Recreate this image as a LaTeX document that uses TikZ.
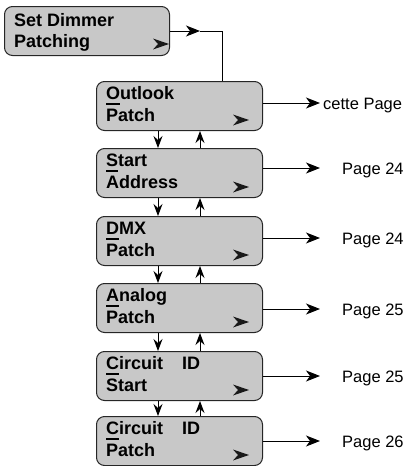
\documentclass[tikz,border=0pt]{standalone}
\usepackage{fontspec}
\setmainfont{Liberation Sans}
\usetikzlibrary{arrows.meta,calc}
\definecolor{boxgray}{RGB}{200,200,200}
\newcommand\ulfirst[1]{\setbox0\hbox{#1}\rlap{\rule[-5.5pt]{\wd0}{1.6pt}}#1}
\begin{document}
\begin{tikzpicture}[x=1pt,y=-1pt,
  box/.style={draw=black!85, fill=boxgray, line width=1pt, rounded corners=8pt,
    minimum width=166pt, minimum height=49pt, inner sep=0pt},
  lbl/.style={font=\fontsize{18}{22}\selectfont\bfseries, inner sep=0pt, anchor=base west},
  pg/.style={font=\fontsize{16.5}{20}\selectfont, inner sep=0pt, anchor=base west},
  conn/.style={draw=black, line width=1pt},
  arr/.style={-{Stealth[length=14pt,width=11pt,inset=4pt]}},
  varr/.style={-{Stealth[length=12pt,width=9pt,inset=4pt]}},
  tipglyph/.style={fill=black!90}]
\useasboundingbox (0,0) rectangle (413,466);
% top box
\node[box, minimum width=165pt, anchor=north west] (sdp) at (4,6) {};
\node[lbl] (sdp1) at ($(sdp.north west)+(10,20)$) {Set Dimmer};
\node[lbl] (sdp2) at ($(sdp.north west)+(10,41)$) {Patching};
\fill[tipglyph] ($(sdp.south east)+(-1,-12)$) -- ++(-16,-5.5) -- ++(5,5.5) -- ++(-5,5.5) -- cycle;
% menu boxes
\node[box, anchor=north west] (outlook) at (96,81) {};
\node[lbl] (outlooka) at ($(outlook.north west)+(10,18)$) {\ulfirst{O}utlook};
\node[lbl] (outlookb) at ($(outlook.north west)+(10,40.5)$) {Patch};
\fill[tipglyph] ($(outlook.south east)+(-14,-11)$) -- ++(-16,-5.5) -- ++(5,5.5) -- ++(-5,5.5) -- cycle;
\coordinate (outlooke) at (320,103);
\draw[conn,arr] (outlook.east |- outlooke) -- (outlooke);
\node[pg] (outlookp) at (323,109) {cette Page};

\node[box, anchor=north west] (start) at (96,148) {};
\node[lbl] (starta) at ($(start.north west)+(10,18)$) {\ulfirst{S}tart};
\node[lbl] (startb) at ($(start.north west)+(10,40.5)$) {Address};
\fill[tipglyph] ($(start.south east)+(-14,-11)$) -- ++(-16,-5.5) -- ++(5,5.5) -- ++(-5,5.5) -- cycle;
\coordinate (starte) at (320,168);
\draw[conn,arr] (start.east |- starte) -- (starte);
\node[pg] (startp) at (342,174) {Page 24};

\node[box, anchor=north west] (dmx) at (96,216) {};
\node[lbl] (dmxa) at ($(dmx.north west)+(10,18)$) {\ulfirst{D}MX};
\node[lbl] (dmxb) at ($(dmx.north west)+(10,40.5)$) {Patch};
\fill[tipglyph] ($(dmx.south east)+(-14,-11)$) -- ++(-16,-5.5) -- ++(5,5.5) -- ++(-5,5.5) -- cycle;
\coordinate (dmxe) at (320,238);
\draw[conn,arr] (dmx.east |- dmxe) -- (dmxe);
\node[pg] (dmxp) at (342,244) {Page 24};

\node[box, anchor=north west] (analog) at (96,283) {};
\node[lbl] (analoga) at ($(analog.north west)+(10,18)$) {\ulfirst{A}nalog};
\node[lbl] (analogb) at ($(analog.north west)+(10,40.5)$) {Patch};
\fill[tipglyph] ($(analog.south east)+(-14,-11)$) -- ++(-16,-5.5) -- ++(5,5.5) -- ++(-5,5.5) -- cycle;
\coordinate (analoge) at (320,309);
\draw[conn,arr] (analog.east |- analoge) -- (analoge);
\node[pg] (analogp) at (342,315) {Page 25};

\node[box, anchor=north west] (cstart) at (96,351) {};
\node[lbl] (cstarta) at ($(cstart.north west)+(10,18)$) {\ulfirst{C}ircuit};
\node[lbl] (cstartid) at ($(cstart.north west)+(86,18)$) {ID};
\node[lbl] (cstartb) at ($(cstart.north west)+(10,40.5)$) {Start};
\fill[tipglyph] ($(cstart.south east)+(-14,-11)$) -- ++(-16,-5.5) -- ++(5,5.5) -- ++(-5,5.5) -- cycle;
\coordinate (cstarte) at (320,376);
\draw[conn,arr] (cstart.east |- cstarte) -- (cstarte);
\node[pg] (cstartp) at (342,382) {Page 25};

\node[box, anchor=north west] (cpatch) at (96,416) {};
\node[lbl] (cpatcha) at ($(cpatch.north west)+(10,18)$) {\ulfirst{C}ircuit};
\node[lbl] (cpatchid) at ($(cpatch.north west)+(86,18)$) {ID};
\node[lbl] (cpatchb) at ($(cpatch.north west)+(10,40.5)$) {Patch};
\fill[tipglyph] ($(cpatch.south east)+(-14,-11)$) -- ++(-16,-5.5) -- ++(5,5.5) -- ++(-5,5.5) -- cycle;
\coordinate (cpatche) at (320,441);
\draw[conn,arr] (cpatch.east |- cpatche) -- (cpatche);
\node[pg] (cpatchp) at (342,447) {Page 26};

% top connector
\coordinate (j1) at (200,0 |- sdp.east);
\draw[conn,arr] (sdp.east) -- (j1);
\draw[conn] (j1) -| ($(outlook.north west)+(126,0)$);

% vertical arrows
\foreach \a/\b in {outlook/start,start/dmx,dmx/analog,analog/cstart,cstart/cpatch}{
  \draw[conn,varr] ($(\a.south west)+(62,0)$) -- ($(\b.north west)+(62,0)$);
  \draw[conn,varr] ($(\b.north west)+(104,0)$) -- ($(\a.south west)+(104,0)$);
}
\end{tikzpicture}
\end{document}
